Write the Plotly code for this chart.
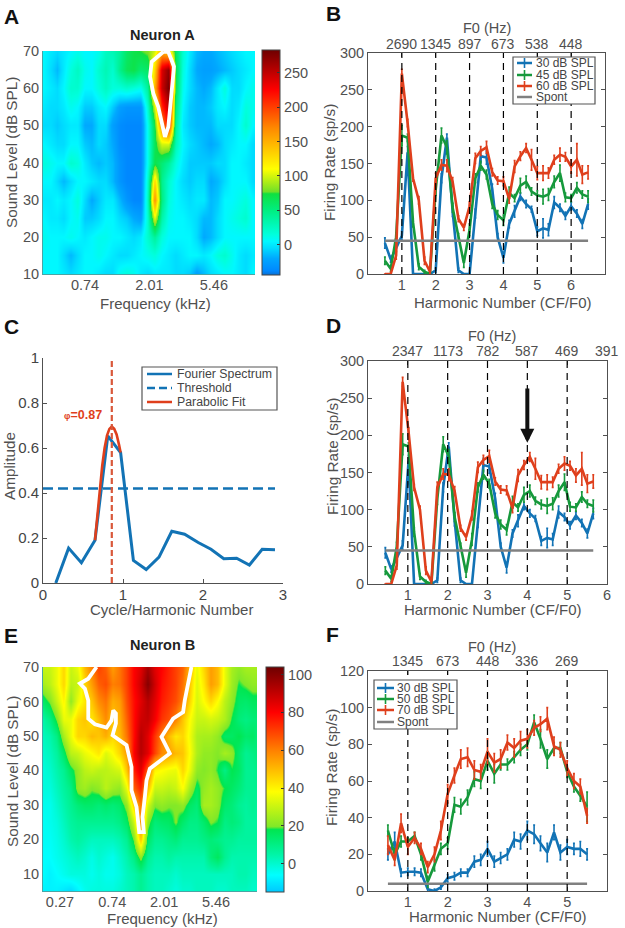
import plotly.graph_objects as go

W, H = 625, 928
GREY = "#505050"
BLUE = "#1273b5"
GREEN = "#16993c"
RED = "#df3f1c"
FONT = "Liberation Sans, Arial, sans-serif"

# ---------------------------------------------------------------------
# Data
# ---------------------------------------------------------------------
levels_a = [70, 65, 60, 55, 50, 45, 40, 35, 30, 25, 20, 15, 10]
rate_map_a = [
    [5, 0, -5, 0, 5, 10, 5, 5, 10, 25, 30, 40, 60, 70, 75, 80, 100, 150, 130, 60, 20, 0, -15, -20, -20, -15, -10, -5, 0, 5, 5],
    [5, -5, -15, 0, 15, 25, 10, 5, 20, 30, 20, 45, 65, 70, 55, 60, 130, 240, 270, 70, 15, -5, -20, -25, -25, -20, -15, -10, -5, 0, 5],
    [5, 0, -5, 5, 20, 20, 5, 5, 15, 25, 15, 15, 20, 15, 10, 40, 150, 245, 280, 65, 10, -5, -15, -20, -15, 0, 15, -5, -5, 5, 10],
    [0, -5, -5, 0, 10, 5, -10, -10, 0, 5, -10, -25, -30, -30, -30, 20, 100, 210, 250, 50, 5, -10, -15, -15, -10, 0, 5, -5, 0, 15, 10],
    [-5, -5, -10, -5, 0, 0, -20, -20, -5, -5, -25, -35, -38, -38, -38, 10, 70, 170, 220, 40, 0, -10, -15, -15, -15, -5, -5, -5, 5, 20, 5],
    [5, 0, -5, -5, 5, 5, -10, -15, -5, -10, -20, -35, -38, -38, -38, 10, 65, 100, 100, 30, 5, -5, -10, -15, -20, -15, -5, 0, 5, 5, -5],
    [15, 10, 5, 5, 20, 15, 0, -10, -15, -10, -15, -30, -38, -38, -38, 10, 70, 55, 40, 15, 0, -10, -10, -10, -10, -5, -5, 5, 5, 0, -5],
    [5, 5, -5, -15, -5, 5, 5, 0, -5, -5, -15, -30, -38, -38, -38, 20, 130, 45, 20, 5, -5, -10, -5, -5, -20, -15, -5, 5, 5, 5, -5],
    [0, 0, 5, 0, 5, 15, -5, -20, -10, 0, 0, -15, -30, -38, -38, 25, 165, 50, 15, 5, 0, -5, 0, 0, -15, -10, 5, 5, 10, 15, 5],
    [5, 0, 0, -5, 5, 10, -10, -10, -5, 5, 5, -5, -10, -20, -25, 20, 105, 35, 10, 5, 5, 0, -5, -15, -15, -5, 5, 10, 15, 20, 5],
    [10, 5, 5, 5, 10, 5, 0, 5, 10, 10, 5, 5, 0, -5, 0, 20, 40, 15, 5, 5, 5, 5, -5, -20, -15, -5, 5, 5, 5, 5, 5],
    [5, 5, 5, -5, -15, -5, 5, 5, 10, 5, 0, -5, -5, 0, 5, 10, 15, 5, 0, -5, 0, 5, 5, 0, 5, 15, 20, 10, 0, -5, 0],
    [5, 5, 5, 0, -5, 0, 5, 5, 0, -5, -5, 10, 15, 10, 0, -5, 0, 0, 0, -5, -5, -10, -25, -15, -5, 0, 5, 5, 0, -5, 5],
]
contour_a_logf = [0.914, 0.733, 0.707, 0.758, 0.835, 0.904, 0.939, 0.991, 1.028, 1.059, 1.079, 0.991, 0.914]
contour_a_level = [69.8, 67.1, 63.1, 58.6, 55.0, 49.6, 46.9, 49.6, 55.9, 61.3, 65.8, 69.8, 69.8]

levels_e = [70, 65, 60, 55, 50, 45, 40, 35, 30, 25, 20, 15, 10, 5]
rate_map_e = [
    [30, 30, 35, 45, 30, 35, 50, 60, 70, 65, 55, 62, 70, 80, 85, 95, 85, 80, 75, 70, 65, 50, 35, 45, 55, 50, 35, 25, 22, 25, 25, 25],
    [25, 28, 35, 45, 28, 30, 45, 55, 65, 68, 60, 62, 70, 80, 88, 100, 88, 78, 74, 70, 62, 48, 33, 42, 55, 50, 35, 24, 18, 20, 22, 22],
    [15, 20, 30, 40, 22, 35, 42, 48, 58, 62, 52, 55, 68, 78, 85, 92, 85, 76, 72, 68, 60, 45, 32, 38, 45, 38, 28, 22, 15, 14, 16, 16],
    [5, 10, 20, 35, 35, 45, 48, 42, 50, 58, 48, 52, 65, 78, 88, 90, 82, 72, 68, 60, 48, 38, 30, 30, 32, 30, 26, 18, 12, 10, 12, 12],
    [2, 4, 10, 25, 35, 45, 45, 50, 48, 52, 45, 50, 62, 78, 92, 85, 72, 60, 50, 42, 45, 36, 26, 25, 25, 22, 15, 15, 18, 14, 15, 10],
    [0, 2, 6, 15, 28, 30, 35, 38, 42, 33, 38, 45, 55, 80, 92, 85, 70, 58, 55, 50, 48, 38, 26, 22, 22, 20, 25, 22, 14, 8, 10, 12],
    [-2, 0, 4, 8, 16, 22, 28, 30, 28, 28, 30, 32, 48, 75, 85, 65, 40, 38, 36, 35, 45, 35, 22, 20, 22, 18, 10, 18, 15, 8, 8, 10],
    [-2, -2, 2, 6, 10, 22, 24, 20, 22, 28, 24, 22, 35, 65, 75, 50, 30, 30, 28, 30, 38, 25, 16, 22, 25, 22, 18, 15, 12, 8, 8, 8],
    [-4, -4, 0, 4, 8, 12, 14, 14, 12, 14, 12, 14, 22, 45, 62, 32, 20, 22, 20, 20, 22, 15, 12, 25, 25, 22, 14, 12, 8, 6, 8, 6],
    [-5, -4, -2, 2, 6, 8, 8, 8, 8, 8, 8, 10, 15, 30, 58, 22, 12, 14, 15, 20, 14, 10, 10, 14, 20, 18, 10, 12, 10, 6, 6, 6],
    [-5, -5, -3, 0, 4, 6, 4, 2, 2, 2, 2, 4, 8, 20, 48, 15, 8, 8, 10, 12, 8, 8, 8, 10, 12, 10, 8, 8, 6, 6, 6, 6],
    [-6, -6, -4, -2, 0, 2, 0, -3, 0, -2, -4, 0, 4, 10, 22, 8, 4, 4, 6, 4, 4, 4, 4, 4, 12, 16, 8, 4, 4, 4, 4, 4],
    [-6, -8, -6, -4, -2, -2, -2, -4, -2, -4, -4, -2, 2, 4, 8, 4, 2, 2, 2, 0, 2, 2, 2, 2, 2, 2, 2, 2, 4, 4, 2, 2],
    [-8, -8, -8, -10, -12, -8, -4, -2, -2, -2, -2, 0, 2, 4, 8, 4, 2, 2, 0, -2, 0, 0, 2, 2, 2, 0, 0, 2, 2, 2, 0, 0],
]
contour_e_logf = [-0.604, -0.764, -0.924, -0.828, -0.764, -0.764, -0.636, -0.412, -0.316, -0.283, -0.232, -0.232, -0.296,
                  -0.027, 0.069, 0.069, 0.165, 0.197, 0.217, 0.306, 0.281, 0.326, 0.358, 0.422, 0.806, 0.646, 0.870,
                  1.063, 1.095, 1.223]
contour_e_level = [70, 66.6, 65.2, 63.7, 60.3, 55.0, 53.4, 52.4, 54.5, 57.4, 56.5, 53.6, 50.2, 47.3, 41.0, 34.2, 29.4,
                   25.5, 22.1, 22.1, 26.5, 32.3, 37.1, 40.5, 44.9, 49.7, 55.0, 56.9, 60.3, 70]

harm_b = [0.5, 0.67, 0.83, 1.0, 1.17, 1.33, 1.5, 1.67, 1.83, 2.0, 2.17, 2.33, 2.5, 2.67, 2.83, 3.0, 3.17, 3.33, 3.5,
          3.67, 3.83, 4.0, 4.17, 4.33, 4.5, 4.67, 4.83, 5.0, 5.17, 5.33, 5.5, 5.67, 5.83, 6.0, 6.17, 6.33, 6.5]
rate_b_30 = [42, 20, 35, 52, 165, 0, 0, 0, 0, 5, 130, 185, 85, 5, 0, 0, 82, 160, 158, 115, 50, 22, 68, 85, 105, 95, 88,
             58, 62, 60, 97, 90, 79, 92, 82, 68, 95]
rate_b_45 = [18, 7, 50, 188, 185, 70, 10, 3, 0, 115, 188, 172, 90, 50, 15, 60, 130, 147, 135, 95, 80, 73, 110, 103, 120,
             125, 112, 107, 105, 108, 125, 137, 104, 103, 117, 108, 105]
rate_b_60 = [0, 0, 25, 272, 205, 130, 100, 18, 3, 130, 148, 147, 125, 75, 63, 92, 157, 167, 172, 138, 127, 126, 102, 146,
             160, 171, 155, 137, 137, 137, 155, 162, 159, 146, 155, 135, 138]
err_b_30 = [7, 4, 4, 6, 8, 0, 0, 0, 0, 3, 6, 5, 7, 3, 0, 0, 6, 9, 9, 7, 5, 7, 5, 8, 5, 5, 4, 6, 13, 8, 8, 5, 5, 5, 5, 6, 7]
err_b_45 = [5, 4, 6, 14, 5, 6, 4, 2, 0, 8, 10, 9, 6, 5, 6, 8, 6, 6, 6, 6, 6, 7, 8, 5, 10, 8, 5, 6, 10, 8, 8, 11, 6, 5, 7, 5, 8]
err_b_60 = [0, 0, 5, 6, 5, 4, 5, 5, 2, 7, 7, 8, 6, 4, 4, 6, 7, 6, 8, 5, 5, 6, 6, 8, 6, 6, 14, 9, 10, 7, 6, 9, 6, 9, 22, 12, 9]
spont_b = 45
phi = 0.87
harm_d = [round(h * phi, 3) for h in harm_b]

f0_b = ["2690", "1345", "897", "673", "538", "448"]
f0_d = ["2347", "1173", "782", "587", "469", "391"]
f0_f = ["1345", "673", "448", "336", "269"]

cycles = [0.16, 0.32, 0.48, 0.65, 0.81, 0.97, 1.13, 1.29, 1.45, 1.61, 1.77, 1.94, 2.10, 2.26, 2.42, 2.58, 2.74, 2.90]
spectrum = [0, 0.155, 0.09, 0.19, 0.654, 0.58, 0.10, 0.06, 0.115, 0.23, 0.217, 0.18, 0.15, 0.108, 0.11, 0.08, 0.15, 0.148]
threshold = 0.42
fit_x = [0.65, 0.68, 0.71, 0.74, 0.77, 0.80, 0.83, 0.86, 0.89, 0.92, 0.95, 0.97]
fit_y = [0.19, 0.31, 0.42, 0.52, 0.60, 0.655, 0.685, 0.695, 0.685, 0.66, 0.615, 0.58]

harm_f = [0.5, 0.67, 0.83, 1.0, 1.17, 1.33, 1.5, 1.67, 1.83, 2.0, 2.17, 2.33, 2.5, 2.67, 2.83, 3.0, 3.17, 3.33, 3.5,
          3.67, 3.83, 4.0, 4.17, 4.33, 4.5, 4.67, 4.83, 5.0, 5.17, 5.33, 5.5]
rate_f_30 = [20, 27, 10, 10.5, 10.5, 10, 1, 0, 2, 7, 8, 10, 10, 16, 17, 23, 16, 18, 20, 28, 27, 33, 31, 26, 21, 32, 21, 24, 23, 23, 20]
rate_f_50 = [33, 20, 27, 27, 30, 20, 5, 14, 23, 26, 47, 46, 51, 61, 60, 71, 64, 69, 69, 73, 77, 80, 92, 83, 72, 78, 78, 65, 57, 52, 46]
rate_f_70 = [25, 17, 37, 24, 29, 23, 13, 20, 33, 53, 63, 72, 73, 66, 65, 76, 70, 72, 81, 78, 82, 83, 89, 91, 94, 79, 77, 67, 60, 57, 41]
err_f_30 = [3, 5, 2, 2, 2, 2, 2, 1, 1, 2, 2, 2, 2, 3, 3, 4, 3, 3, 3, 4, 4, 5, 5, 4, 5, 4, 4, 4, 3, 4, 3]
err_f_50 = [3, 3, 3, 2, 2, 3, 3, 3, 3, 3, 4, 4, 4, 4, 4, 5, 5, 3, 3, 3, 3, 3, 4, 5, 5, 3, 3, 3, 3, 3, 8]
err_f_70 = [5, 3, 5, 4, 3, 3, 3, 4, 5, 5, 4, 5, 5, 5, 4, 7, 5, 5, 4, 5, 5, 5, 4, 4, 6, 5, 4, 4, 4, 4, 4]
spont_f = 4

# colour ramps: (rate, colour) pairs, both have the sharp step the published colorbars show
ramp_a = [(-44, "#0a6fd0"), (-38, "#0088ff"), (-20, "#00a8ff"), (-5, "#00dcff"), (5, "#00f8ff"), (15, "#00ffdc"), (50, "#00ee80"),
          (74, "#10e040"), (77, "#70e028"), (110, "#ffff00"), (170, "#ff8800"), (225, "#ff0000"), (283, "#6e0000")]
ramp_e = [(-15, "#00c8ff"), (-6, "#00ffff"), (5, "#00f5a5"), (18, "#00e650"), (19.5, "#80e828"), (38, "#ffff00"),
          (60, "#ff8000"), (80, "#ff0000"), (104, "#6e0000")]


def colorscale(ramp):
    lo, hi = ramp[0][0], ramp[-1][0]
    return [[(v - lo) / (hi - lo), c] for v, c in ramp]


def px(x):
    return x / W


def py(y):
    return 1 - y / H


def x_axis(left, right, anchor, rng, **kw):
    ax = dict(domain=[px(left), px(right)], anchor=anchor, range=rng, showgrid=False, zeroline=False, automargin=False,
              tickfont=dict(size=14.5, color=GREY, family=FONT), ticks="", showline=True, linecolor="#505050", linewidth=1,
              ticklabelstandoff=-2)
    ax.update(kw)
    return ax


def y_axis(top, bottom, anchor, rng, **kw):
    ax = dict(domain=[py(bottom), py(top)], anchor=anchor, range=rng, showgrid=False, zeroline=False, automargin=False,
              tickfont=dict(size=14.5, color=GREY, family=FONT), ticks="", showline=True, linecolor="#505050", linewidth=1)
    ax.update(kw)
    return ax


fig = go.Figure()
shapes = []
annotations = []


def note(x, y, text, size=14.5, color=GREY, bold=False, **kw):
    base = dict(x=px(x), y=py(y), xref="paper", yref="paper", showarrow=False, xanchor="center", yanchor="middle",
                font=dict(size=size, color=color, family=FONT), text=f"<b>{text}</b>" if bold else text)
    base.update(kw)
    annotations.append(base)


def axis_titles(x_text, x_pos, y_text, y_pos):
    note(x_pos[0], x_pos[1], x_text, size=15)
    note(y_pos[0], y_pos[1], y_text, size=15.3, textangle=-90)


def add_series(harm, series, axis_no):
    for rate, err, colour in series:
        fig.add_trace(go.Scatter(
            x=harm, y=rate, mode="lines", line=dict(color=colour, width=2.6), showlegend=False,
            error_y=dict(type="data", array=err, color=colour, thickness=1.6, width=1),
            xaxis=f"x{axis_no}", yaxis=f"y{axis_no}"))


def add_spont(x_pair, level, axis_no):
    fig.add_trace(go.Scatter(x=x_pair, y=[level, level], mode="lines", line=dict(color="#808080", width=2.5),
                             showlegend=False, xaxis=f"x{axis_no}", yaxis=f"y{axis_no}"))


def add_harmonic_lines(harmonics, ymax, axis_no):
    for h in harmonics:
        shapes.append(dict(type="line", xref=f"x{axis_no}", yref=f"y{axis_no}", x0=h, x1=h, y0=0, y1=ymax,
                           line=dict(color="black", width=1.2, dash="7px,5px"), layer="above"))


def add_f0_labels(labels, axis_no, y_ticks, y_title, x_title):
    for i, label in enumerate(labels):
        annotations.append(dict(x=i + 1, y=py(y_ticks), xref=f"x{axis_no}", yref="paper", showarrow=False, text=label,
                                xanchor="center", yanchor="middle", font=dict(size=14, color=GREY, family=FONT)))
    note(x_title, y_title, "F0 (Hz)")


def box_legend(left, top, right, bottom):
    shapes.append(dict(type="rect", xref="paper", yref="paper", x0=px(left), x1=px(right), y0=py(top), y1=py(bottom),
                       line=dict(color="#555555", width=1.2), fillcolor="white", layer="above"))


def legend_row(x0, x1, y, text_x, text, colour, size=12, dash=None, tick=False):
    line = dict(color=colour, width=2.5)
    if dash:
        line["dash"] = dash
    shapes.append(dict(type="line", xref="paper", yref="paper", x0=px(x0), x1=px(x1), y0=py(y), y1=py(y), line=line, layer="above"))
    if tick:
        mid = (x0 + x1) / 2
        shapes.append(dict(type="line", xref="paper", yref="paper", x0=px(mid), x1=px(mid), y0=py(y - 5), y1=py(y + 5),
                           line=dict(color=colour, width=1.6), layer="above"))
    note(text_x, y, text, size=size, color="#444444", xanchor="left")


# ---------------------------------------------------------------------
# A: response map, neuron A
# ---------------------------------------------------------------------
fig.add_trace(go.Heatmap(
    z=rate_map_a, x0=-0.952, dx=0.1085, y=levels_a, zmin=-44, zmax=283, zsmooth="best", colorscale=colorscale(ramp_a),
    xaxis="x", yaxis="y",
    colorbar=dict(x=px(262), xanchor="left", xpad=0, y=py(50), yanchor="top", ypad=0, thickness=18, len=225, lenmode="pixels",
                  tickvals=[0, 50, 100, 150, 200, 250], ticks="inside", ticklen=3, tickcolor="#333333", outlinecolor="#444444",
                  outlinewidth=1, tickfont=dict(size=14.5, color=GREY, family=FONT))))
fig.add_trace(go.Scatter(x=contour_a_logf, y=contour_a_level, mode="lines", line=dict(color="white", width=3.8),
                         showlegend=False, xaxis="x", yaxis="y"))
note(162, 35, "Neuron A", size=14.5, color="#222222", bold=True)
axis_titles("Frequency (kHz)", (155, 303), "Sound Level (dB SPL)", (12, 153))

# ---------------------------------------------------------------------
# B / D: same rates against two different F0 scales
# ---------------------------------------------------------------------
series_b = [(rate_b_30, err_b_30, BLUE), (rate_b_45, err_b_45, GREEN), (rate_b_60, err_b_60, RED)]
add_series(harm_b, series_b, 2)
add_spont([0.5, 6.5], spont_b, 2)
add_harmonic_lines([1, 2, 3, 4, 5, 6], 300, 2)
add_f0_labels(f0_b, 2, 44, 28, 487)
box_legend(513, 57, 595, 104)
legend_row(517, 532, 63, 534, "30 dB SPL", BLUE, tick=True)
legend_row(517, 532, 75, 534, "45 dB SPL", GREEN, tick=True)
legend_row(517, 532, 86, 534, "60 dB SPL", RED, tick=True)
legend_row(517, 532, 97, 534, "Spont", "#808080")
axis_titles("Harmonic Number (CF/F0)", (503, 302), "Firing Rate (sp/s)", (330, 163))

add_series(harm_d, series_b, 4)
add_spont([harm_d[0], harm_d[-1]], spont_b, 4)
add_harmonic_lines([1, 2, 3, 4, 5], 300, 4)
add_f0_labels(f0_d, 4, 351, 336, 492)
annotations.append(dict(x=4, y=190, ax=4, ay=265, xref="x4", yref="y4", axref="x4", ayref="y4", text="", showarrow=True,
                        arrowhead=2, arrowsize=0.7, arrowwidth=4, arrowcolor="#111111"))
axis_titles("Harmonic Number (CF/F0)", (493, 609), "Firing Rate (sp/s)", (332, 457))

# ---------------------------------------------------------------------
# C: Fourier spectrum of the rate profile
# ---------------------------------------------------------------------
fig.add_trace(go.Scatter(x=[cycles[0] - 0.16, cycles[-1]], y=[threshold, threshold], mode="lines",
                         line=dict(color=BLUE, width=2.3, dash="10px,5px"), showlegend=False, xaxis="x3", yaxis="y3"))
fig.add_trace(go.Scatter(x=cycles, y=spectrum, mode="lines", line=dict(color=BLUE, width=3), showlegend=False,
                         xaxis="x3", yaxis="y3"))
fig.add_trace(go.Scatter(x=fit_x, y=fit_y, mode="lines", line=dict(color=RED, width=2.6), showlegend=False,
                         xaxis="x3", yaxis="y3"))
shapes.append(dict(type="line", xref="x3", yref="y3", x0=0.86, x1=0.86, y0=0, y1=1,
                   line=dict(color="#d9583a", width=2.2, dash="6px,3px"), layer="above"))
box_legend(142, 367, 277, 410)
legend_row(147, 172, 374, 175, "Fourier Spectrum", BLUE, size=12.3)
legend_row(147, 172, 388, 175, "Threshold", BLUE, size=12.3, dash="8px,4px")
legend_row(147, 172, 402, 175, "Parabolic Fit", RED, size=12.3)
note(83, 415, "<span style='font-size:9px'>φ</span>=0.87", size=12.5, color=RED, bold=True)
axis_titles("Cycle/Harmonic Number", (171, 609), "Amplitude", (9, 466))

# ---------------------------------------------------------------------
# E: response map, neuron B
# ---------------------------------------------------------------------
fig.add_trace(go.Heatmap(
    z=rate_map_e, x0=-1.636, dx=0.1346, y=levels_e, zmin=-15, zmax=104, zsmooth="best", colorscale=colorscale(ramp_e),
    xaxis="x5", yaxis="y5",
    colorbar=dict(x=px(266), xanchor="left", xpad=0, y=py(667), yanchor="top", ypad=0, thickness=18, len=225, lenmode="pixels",
                  tickvals=[0, 20, 40, 60, 80, 100], ticks="inside", ticklen=3, tickcolor="#333333", outlinecolor="#444444",
                  outlinewidth=1, tickfont=dict(size=14.5, color=GREY, family=FONT))))
fig.add_trace(go.Scatter(x=contour_e_logf, y=contour_e_level, mode="lines", line=dict(color="white", width=3.8),
                         showlegend=False, xaxis="x5", yaxis="y5"))
note(162, 645, "Neuron B", size=14.5, color="#222222", bold=True)
axis_titles("Frequency (kHz)", (163, 918), "Sound Level (dB SPL)", (12, 772))

# ---------------------------------------------------------------------
# F: rates for neuron B
# ---------------------------------------------------------------------
series_f = [(rate_f_30, err_f_30, BLUE), (rate_f_50, err_f_50, GREEN), (rate_f_70, err_f_70, RED)]
add_series(harm_f, series_f, 6)
add_spont([0.5, 5.5], spont_f, 6)
add_harmonic_lines([1, 2, 3, 4, 5], 120, 6)
add_f0_labels(f0_f, 6, 661, 647, 492)
box_legend(374, 680, 457, 729)
legend_row(377, 394, 688, 395, "30 dB SPL", BLUE, tick=True)
legend_row(377, 394, 699, 395, "50 dB SPL", GREEN, tick=True)
legend_row(377, 394, 710, 395, "70 dB SPL", RED, tick=True)
legend_row(377, 394, 722, 395, "Spont", "#808080")
axis_titles("Harmonic Number (CF/F0)", (498, 916), "Firing Rate (sp/s)", (331, 768))

# panel letters
for letter, x, y in [("A", 11, 16), ("B", 333, 14), ("C", 11, 327), ("D", 333, 326), ("E", 11, 635), ("F", 332, 634)]:
    note(x, y, letter, size=21, color="#111111", bold=True)

# ---------------------------------------------------------------------
# Layout
# ---------------------------------------------------------------------
inside = dict(ticks="inside", ticklen=4, tickcolor="#505050", mirror="ticks")
map_frame = dict(linecolor="#4aa5a5")
fig.update_layout(
    width=W, height=H, margin=dict(l=0, r=0, t=0, b=0), paper_bgcolor="white", plot_bgcolor="white",
    showlegend=False, shapes=shapes, annotations=annotations, font=dict(family=FONT),
    xaxis=x_axis(43, 255, "y", [-0.952, 2.335], tickvals=[-0.301, 0.698, 1.697], ticktext=["0.74", "2.01", "5.46"], **map_frame),
    yaxis=y_axis(51, 274, "x", [10, 70], tickvals=[10, 20, 30, 40, 50, 60, 70], **map_frame),
    xaxis2=x_axis(368, 605, "y2", [0, 7], tickvals=[1, 2, 3, 4, 5, 6], **inside),
    yaxis2=y_axis(53, 274, "x2", [0, 300], tickvals=[0, 50, 100, 150, 200, 250, 300], **inside),
    xaxis3=x_axis(43, 283, "y3", [0, 3], tickvals=[0, 1, 2, 3], ticks="inside", ticklen=4, tickcolor="#505050",
                  tickfont=dict(size=15, color="#444444", family=FONT)),
    yaxis3=y_axis(358, 583, "x3", [0, 1], tickvals=[0, 0.2, 0.4, 0.6, 0.8, 1], ticktext=["0", "0.2", "0.4", "0.6", "0.8", "1"],
                  ticks="inside", ticklen=4, tickcolor="#505050", tickfont=dict(size=15, color="#444444", family=FONT)),
    xaxis4=x_axis(368, 607, "y4", [0, 6], tickvals=[1, 2, 3, 4, 5, 6], **inside),
    yaxis4=y_axis(361, 584, "x4", [0, 300], tickvals=[0, 50, 100, 150, 200, 250, 300], **inside),
    xaxis5=x_axis(43, 257, "y5", [-1.636, 2.486], tickvals=[-1.309, -0.301, 0.698, 1.697], ticktext=["0.27", "0.74", "2.01", "5.46"], **map_frame),
    yaxis5=y_axis(667, 891, "x5", [5, 70], tickvals=[10, 20, 30, 40, 50, 60, 70], **map_frame),
    xaxis6=x_axis(368, 607, "y6", [0, 6], tickvals=[1, 2, 3, 4, 5], **inside),
    yaxis6=y_axis(671, 891, "x6", [0, 120], tickvals=[0, 20, 40, 60, 80, 100, 120], **inside),
)

fig.write_html("out.html", config=dict(displayModeBar=False), post_script="document.body.style.margin='0';")
